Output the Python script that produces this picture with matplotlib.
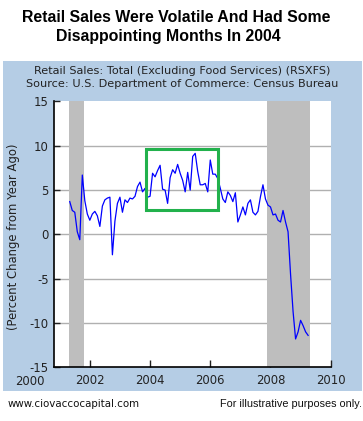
import numpy as np
import pandas as pd
import matplotlib
matplotlib.use('Agg')
import matplotlib.pyplot as plt
from matplotlib.patches import Rectangle

plt.rcParams['axes.unicode_minus'] = False

# year-over-year % change, monthly from May 2001
pct_change = [
    3.7, 2.7, 2.5, 0.3, -0.6, 6.7, 3.8, 2.3, 1.6, 2.3, 2.6, 2.1,
    0.9, 3.2, 3.9, 4.1, 4.2, -2.3, 1.5, 3.5, 4.2, 2.5, 3.9, 3.6,
    4.1, 4.0, 4.3, 5.4, 5.9, 4.8, 5.2, 4.2, 4.3, 6.9, 6.5, 7.2,
    7.8, 5.1, 5.0, 3.5, 6.4, 7.3, 6.9, 7.9, 6.9, 6.1, 4.8, 7.0,
    5.0, 8.8, 9.15, 7.1, 5.6, 5.6, 5.75, 4.8, 8.4, 6.8, 6.8, 6.3,
    5.2, 4.0, 3.6, 4.8, 4.4, 3.7, 4.7, 1.4, 2.2, 3.1, 2.2, 3.5,
    3.9, 2.5, 2.2, 2.6, 4.25, 5.6, 4.0, 3.3, 3.1, 2.2, 2.3, 1.6,
    1.4, 2.7, 1.4, 0.3, -4.5, -8.7, -11.8, -11.0, -9.7, -10.3, -11.0, -11.4,
]
months = pd.date_range('2001-05-01', periods=len(pct_change), freq='MS')
t = months.year + (months.month - 1) / 12

recession_start = [2001.3, 2007.87]
recession_end = [2001.8, 2009.31]

box_start, box_end = 2003.87, 2006.27
box_low, box_high = 2.7, 9.6

x_ticks = [2002, 2004, 2006, 2008, 2010]
y_ticks = [-15, -10, -5, 0, 5, 10, 15]

panel_blue = '#b5cde5'
tick_size = 8.4

fig = plt.figure(figsize=(3.63, 4.21), dpi=100)
fig.patch.set_facecolor('white')

# blue panel behind the chart
bg = fig.add_axes([3 / 363, 30 / 421, 359 / 363, 330 / 421], zorder=0)
bg.set_facecolor(panel_blue)
bg.set_xticks([])
bg.set_yticks([])
for sp in bg.spines.values():
    sp.set_visible(False)

ax = fig.add_axes([54.3 / 363, 53.7 / 421, 276.4 / 363, 265.8 / 421], zorder=1)
ax.set_facecolor('white')

for y in [-10, -5, 0, 5, 10]:
    ax.axhline(y, color='#b0b0b0', linewidth=1.0, zorder=1)

for s, e in zip(recession_start, recession_end):
    ax.axvspan(s, e, color='#bebebe', zorder=2, linewidth=0)

ax.plot(t, pct_change, color='#0000ff', linewidth=0.9, zorder=3)

ax.add_patch(Rectangle((box_start, box_low), box_end - box_start, box_high - box_low,
                       fill=False, edgecolor='#22b14c', linewidth=2.2, zorder=4))

ax.set_xlim(2000.82, 2010)
ax.set_ylim(-15, 15)
ax.set_xticks(x_ticks)
ax.set_yticks(y_ticks)
ax.tick_params(axis='x', direction='in', length=5, width=1, pad=5, labelsize=tick_size, colors='#222222')
ax.tick_params(axis='y', direction='in', length=4, width=1, pad=4, labelsize=tick_size, colors='#222222')
for side in ['top', 'right']:
    ax.spines[side].set_visible(False)
for side in ['left', 'bottom']:
    ax.spines[side].set_linewidth(1.2)
    ax.spines[side].set_color('black')

# the first year label sits left of the plot edge
ax.annotate('2000', xy=(2000, 0), xycoords=('data', 'axes fraction'),
            xytext=(0, -5.6), textcoords='offset points', ha='center', va='top',
            fontsize=tick_size, color='#222222', annotation_clip=False)

fig.text(13.5 / 363, 0.438, '(Percent Change from Year Ago)', rotation=90,
         ha='center', va='center', fontsize=8.4, color='#222222')

fig.text(182 / 363, 1 - 70.5 / 421, 'Retail Sales: Total (Excluding Food Services) (RSXFS)',
         ha='center', va='center', fontsize=8.1, color='#222222')
fig.text(182 / 363, 1 - 84 / 421, 'Source: U.S. Department of Commerce: Census Bureau',
         ha='center', va='center', fontsize=8.1, color='#222222')

fig.text(176 / 363, 1 - 18 / 421, 'Retail Sales Were Volatile And Had Some',
         ha='center', va='center', fontsize=11.4, fontweight='bold', family='Liberation Sans')
fig.text(168 / 363, 1 - 37 / 421, 'Disappointing Months In 2004',
         ha='center', va='center', fontsize=11.4, fontweight='bold', family='Liberation Sans')

fig.text(8 / 363, 1 - 404 / 421, 'www.ciovaccocapital.com',
         ha='left', va='center', fontsize=7.4, color='#111111')
fig.text(362 / 363, 1 - 404 / 421, 'For illustrative purposes only.',
         ha='right', va='center', fontsize=7.8, family='Liberation Sans', color='#111111')

fig.savefig('out.png', dpi=100)
